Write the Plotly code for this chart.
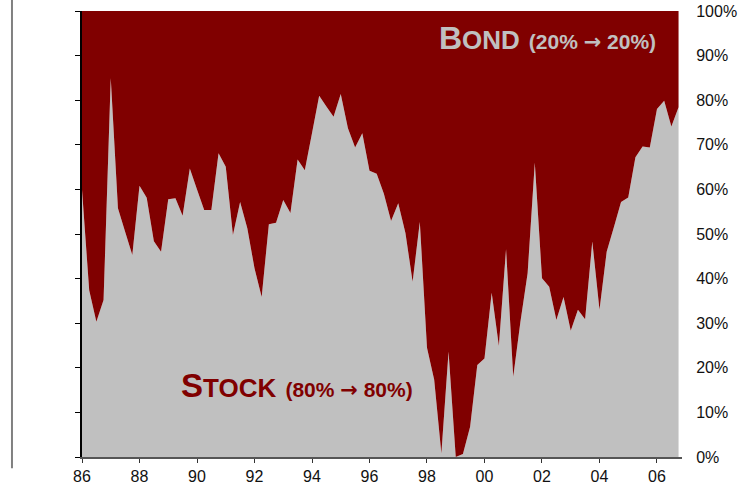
import plotly.graph_objects as go

# quarterly points, 1986Q1 .. 2006Q4
quarters = [1986 + i * 0.25 for i in range(84)]

stock_pct = [
    59.9, 37.4, 30.3, 35.2, 84.9, 55.8, 50.5, 45.3,
    60.8, 58.1, 48.4, 46.0, 57.8, 58.0, 54.1, 64.7,
    60.0, 55.4, 55.4, 68.1, 65.1, 49.8, 57.2, 51.3,
    42.3, 35.9, 52.2, 52.5, 57.6, 54.7, 66.7, 64.3,
    72.6, 81.0, 78.6, 76.3, 81.4, 73.7, 69.4, 72.6,
    64.2, 63.5, 59.0, 52.9, 56.9, 50.2, 39.3, 52.7,
    24.5, 17.3, 0.8, 23.6, 0.0, 0.7, 6.8, 20.6,
    22.1, 36.8, 24.9, 46.6, 18.0, 30.3, 41.2, 66.0,
    40.1, 38.2, 30.7, 35.9, 28.3, 33.0, 30.9, 48.3,
    33.0, 46.0, 51.5, 57.2, 58.2, 67.2, 69.6, 69.4,
    78.0, 79.9, 74.1, 78.4,
]
bond_pct = [100 - v for v in stock_pct]

x_tickvals = [1986, 1988, 1990, 1992, 1994, 1996, 1998, 2000, 2002, 2004, 2006]
x_ticktext = ["86", "88", "90", "92", "94", "96", "98", "00", "02", "04", "06"]
y_tickvals = [0, 10, 20, 30, 40, 50, 60, 70, 80, 90, 100]
y_ticktext = [f"{v}%" for v in y_tickvals]

STOCK_GREY = "#c0c0c0"
BOND_RED = "#800000"
LABEL_FONT = "Liberation Sans, Arial, sans-serif"

fig = go.Figure()

fig.add_trace(go.Scatter(
    x=quarters, y=stock_pct, name="Stock", stackgroup="mix",
    mode="lines", line=dict(width=0), fillcolor=STOCK_GREY,
    hoverinfo="skip",
))
fig.add_trace(go.Scatter(
    x=quarters, y=bond_pct, name="Bond", stackgroup="mix",
    mode="lines", line=dict(width=0), fillcolor=BOND_RED,
    hoverinfo="skip",
))
# invisible trace so the right-hand label axis gets drawn
fig.add_trace(go.Scatter(
    x=[quarters[0]], y=[0], yaxis="y2", mode="markers",
    marker=dict(opacity=0), showlegend=False, hoverinfo="skip",
))

arrow = "<span style='font-family:DejaVu Sans'>→</span>"
fig.add_annotation(
    xref="paper", yref="paper", x=0.96, y=0.94,
    xanchor="right", yanchor="middle", showarrow=False,
    text=("<b>B<span style='font-size:26px'>OND</span> "
          f"<span style='font-size:21px'>(20% {arrow} 20%)</span></b>"),
    font=dict(family=LABEL_FONT, size=32, color=STOCK_GREY),
)
fig.add_annotation(
    xref="paper", yref="paper", x=0.162, y=0.161,
    xanchor="left", yanchor="middle", showarrow=False,
    text=("<b>S<span style='font-size:26px'>TOCK</span> "
          f"<span style='font-size:21px'>(80% {arrow} 80%)</span></b>"),
    font=dict(family=LABEL_FONT, size=33, color=BOND_RED),
)

# thin grey rule down the left edge of the slide
fig.add_shape(
    type="line", xref="paper", yref="paper",
    x0=-0.1167, x1=-0.1167, y0=-0.025, y1=1.025,
    line=dict(color="#808080", width=2),
)

fig.update_layout(
    width=754, height=493,
    margin=dict(l=82, r=72, t=11, b=36),
    paper_bgcolor="white", plot_bgcolor="white",
    showlegend=False,
    font=dict(family=LABEL_FONT, size=16, color="#111111"),
    xaxis=dict(
        range=[1986, 2006.87], tickvals=x_tickvals, ticktext=x_ticktext,
        ticks="outside", ticklen=4, tickcolor="#333333",
        showline=True, linecolor="#555555", linewidth=1.5,
        showgrid=False, zeroline=False, automargin=False,
    ),
    yaxis=dict(
        range=[0, 100], tickvals=y_tickvals, showticklabels=False,
        ticks="outside", ticklen=5, tickcolor="#000000",
        showline=True, linecolor="#000000", linewidth=1.5,
        showgrid=False, zeroline=False, automargin=False,
    ),
    yaxis2=dict(
        overlaying="y", side="right", range=[0, 100],
        tickvals=y_tickvals, ticktext=y_ticktext,
        ticks="outside", ticklen=10, tickcolor="rgba(0,0,0,0)",
        ticklabeloverflow="allow",
        showline=False, showgrid=False, zeroline=False, automargin=False,
    ),
)

# page body carries a default 8px margin; drop it so the figure sits at 0,0
fig.write_html(
    "out.html",
    config={"displayModeBar": False},
    post_script="document.body.style.margin = '0';",
)
